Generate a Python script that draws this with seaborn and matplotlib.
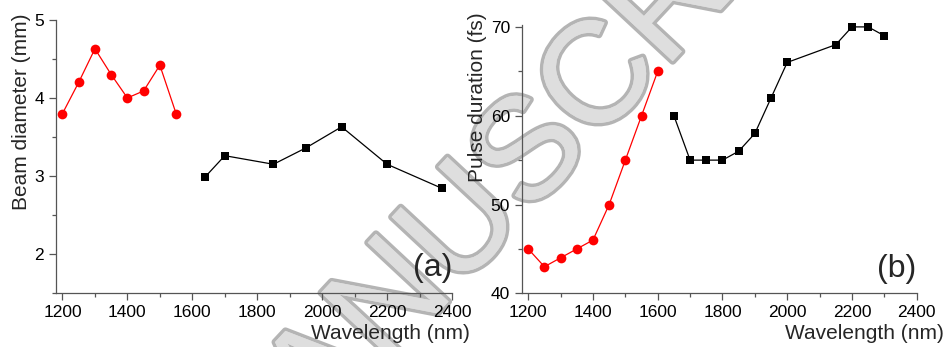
import matplotlib
matplotlib.use("Agg")
import matplotlib.pyplot as plt
import matplotlib.patheffects as pe
from matplotlib.ticker import MultipleLocator
import seaborn as sns

# ── data ────────────────────────────────────────────────────
# (a) beam diameter
wl_a_red = [1200, 1250, 1300, 1350, 1400, 1450, 1500, 1550]
diam_red = [3.80, 4.20, 4.63, 4.30, 4.00, 4.09, 4.42, 3.80]
wl_a_blk = [1640, 1700, 1850, 1950, 2060, 2200, 2370]
diam_blk = [2.99, 3.26, 3.15, 3.36, 3.63, 3.15, 2.84]

# (b) pulse duration
wl_b_red = [1200, 1250, 1300, 1350, 1400, 1450, 1500, 1550, 1600]
dur_red = [45, 43, 44, 45, 46, 50, 55, 60, 65]
wl_b_blk = [1650, 1700, 1750, 1800, 1850, 1900, 1950, 2000, 2150, 2200, 2250, 2300]
dur_blk = [60, 55, 55, 55, 56, 58, 62, 66, 68, 70, 70, 69]

x_ticks = [1200, 1400, 1600, 1800, 2000, 2200, 2400]

sns.set_style("ticks")
plt.rcParams["font.family"] = ["Liberation Sans", "DejaVu Sans"]

fig = plt.figure(figsize=(9.44, 3.47), dpi=100)
ax_a = fig.add_axes([0.0593, 0.1556, 0.4195, 0.787])
ax_b = fig.add_axes([0.5527, 0.1546, 0.4184, 0.773])

# watermark behind the axes
fig.text(0.568, 0.56, "MANUSCRIPT", rotation=47, fontsize=104,
         color="#dedede", ha="center", va="center", zorder=-1,
         path_effects=[pe.withStroke(linewidth=5, foreground="#b4b4b4"),
                       pe.Normal()])

def draw(ax, xr, yr, xb, yb):
    sns.lineplot(x=xr, y=yr, ax=ax, color="red", marker="o", markersize=7,
                 markeredgewidth=0, linewidth=0.9, clip_on=False)
    sns.lineplot(x=xb, y=yb, ax=ax, color="black", marker="s", markersize=5.5,
                 markeredgewidth=0, linewidth=0.9, clip_on=False)

draw(ax_a, wl_a_red, diam_red, wl_a_blk, diam_blk)
draw(ax_b, wl_b_red, dur_red, wl_b_blk, dur_blk)

for ax in (ax_a, ax_b):
    ax.set_facecolor("none")
    ax.set_xlim(1180, 2400)
    ax.set_xticks(x_ticks)
    ax.xaxis.set_minor_locator(MultipleLocator(100))
    ax.tick_params(which="major", direction="out", length=5, width=0.9,
                   labelsize=12.5, colors="#555555", labelcolor="black")
    ax.tick_params(which="minor", direction="out", length=3, width=0.9,
                   colors="#555555")
    for s in ("top", "right"):
        ax.spines[s].set_visible(False)
    for s in ("left", "bottom"):
        ax.spines[s].set_color("#555555")
        ax.spines[s].set_linewidth(0.9)

ax_a.set_ylim(1.5, 5)
ax_a.set_yticks([2, 3, 4, 5])
ax_a.yaxis.set_minor_locator(MultipleLocator(0.5))
ax_b.set_ylim(40, 70.2)
ax_b.set_yticks([40, 50, 60, 70])
ax_b.yaxis.set_minor_locator(MultipleLocator(5))

ax_a.set_ylabel("Beam diameter (mm)", fontsize=15, loc="top")
ax_a.yaxis.set_label_coords(-0.063, 1.025)
ax_b.set_ylabel("Pulse duration (fs)", fontsize=15, loc="top")
ax_b.yaxis.set_label_coords(-0.088, 1.049)

ax_a.set_xlabel("Wavelength (nm)", fontsize=15, loc="right")
ax_a.xaxis.set_label_coords(1.045, -0.115)
ax_b.set_xlabel("Wavelength (nm)", fontsize=15, loc="right")
ax_b.xaxis.set_label_coords(1.069, -0.116)

ax_a.text(1.0, 0.092, "(a)", transform=ax_a.transAxes, fontsize=23,
          ha="right", va="center")
ax_b.text(1.0, 0.092, "(b)", transform=ax_b.transAxes, fontsize=23,
          ha="right", va="center")

fig.savefig("out.png", dpi=100, facecolor="white")
